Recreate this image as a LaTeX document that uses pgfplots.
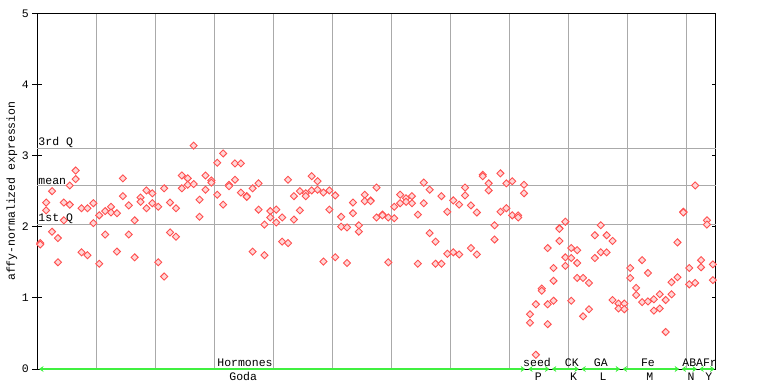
\documentclass[border=0pt]{standalone}
\usepackage{pgfplots}
\pgfplotsset{compat=1.18}
\usepackage{fontspec}
\setmonofont{Liberation Mono}
\usetikzlibrary{arrows.meta}
\definecolor{ptred}{RGB}{255,80,80}
\definecolor{ptfill}{RGB}{255,215,215}
\definecolor{gridgray}{RGB}{170,170,170}
\definecolor{grp}{RGB}{64,240,64}
\begin{document}
\begin{tikzpicture}[font=\ttfamily\fontsize{11.5bp}{13bp}\selectfont]
\begin{axis}[
 at={(0,0)}, anchor=south west,
 scale only axis, width=678.5bp, height=355.7bp,
 xmin=0, xmax=115, ymin=0, ymax=5,
 axis line style={black, line width=1bp},
 xtick={10,20,...,110}, xticklabels={}, xmajorgrids, xtick style={draw=none},
 ytick={0,1,2,3,4,5}, ytick pos=left, tick align=center, major tick length=10bp,
 ytick style={black, line width=1bp},
 major grid style={gridgray, line width=0.9bp},
 /pgf/number format/assume math mode=true,
 yticklabel style={font=\ttfamily\fontsize{11.5bp}{13bp}\selectfont},
 ylabel={affy-normalized expression},
 ylabel style={at={(axis description cs:-0.0373,0.5)}, anchor=center, font=\ttfamily\fontsize{11.5bp}{13bp}\selectfont},
 clip=false,
]
\draw[gridgray, line width=0.9bp] (axis cs:0,3.10) -- (axis cs:115,3.10);
\draw[gridgray, line width=0.9bp] (axis cs:0,2.58) -- (axis cs:115,2.58);
\draw[gridgray, line width=0.9bp] (axis cs:0,2.03) -- (axis cs:115,2.03);
\draw[black, line width=1bp] (axis cs:115,1) -- ++(-4bp,0);
\draw[black, line width=1bp] (axis cs:115,2) -- ++(-4bp,0);
\draw[black, line width=1bp] (axis cs:115,3) -- ++(-4bp,0);
\draw[black, line width=1bp] (axis cs:115,4) -- ++(-4bp,0);
\node[anchor=south west, inner sep=1bp] at (axis cs:0,3.10) {3rd Q};
\node[anchor=south west, inner sep=1bp] at (axis cs:0,2.58) {mean};
\node[anchor=south west, inner sep=1bp] at (axis cs:0,2.03) {1st Q};

\addplot[only marks, mark=square*, mark size=2.5bp, mark options={rotate=45, draw=ptred, fill=ptfill, line width=0.9bp, solid}] table {
x y
0.5 1.77
0.5 1.75
1.5 2.34
1.5 2.23
2.5 2.50
2.5 1.93
3.5 1.84
3.5 1.50
4.5 2.34
4.5 2.09
5.5 2.58
5.5 2.31
6.5 2.79
6.5 2.67
7.5 2.26
7.5 1.64
8.5 2.26
8.5 1.60
9.5 2.33
9.5 2.05
10.5 2.16
10.5 1.48
11.5 2.22
11.5 1.89
12.5 2.28
12.5 2.20
13.5 2.19
13.5 1.65
14.5 2.68
14.5 2.43
15.5 2.30
15.5 1.89
16.5 2.09
16.5 1.57
17.5 2.41
17.5 2.35
18.5 2.51
18.5 2.26
19.5 2.47
19.5 2.33
20.5 2.28
20.5 1.50
21.5 2.54
21.5 1.30
22.5 2.34
22.5 1.92
23.5 2.26
23.5 1.86
24.5 2.72
24.5 2.54
25.5 2.68
25.5 2.59
26.5 3.14
26.5 2.60
27.5 2.38
27.5 2.14
28.5 2.72
28.5 2.52
29.5 2.65
29.5 2.62
30.5 2.90
30.5 2.45
31.5 3.03
31.5 2.31
32.5 2.59
32.5 2.57
33.5 2.89
33.5 2.66
34.5 2.89
34.5 2.48
35.5 2.43
35.5 2.42
36.5 2.54
36.5 1.65
37.5 2.61
37.5 2.24
38.5 2.03
38.5 1.60
39.5 2.22
39.5 2.13
40.5 2.24
40.5 2.06
41.5 2.13
41.5 1.79
42.5 2.66
42.5 1.77
43.5 2.43
43.5 2.10
44.5 2.50
44.5 2.23
45.5 2.47
45.5 2.43
46.5 2.71
46.5 2.51
47.5 2.64
47.5 2.52
48.5 2.48
48.5 1.51
49.5 2.51
49.5 2.24
50.5 2.44
50.5 1.57
51.5 2.14
51.5 2.00
52.5 1.99
52.5 1.49
53.5 2.34
53.5 2.19
54.5 2.02
54.5 1.93
55.5 2.45
55.5 2.36
56.5 2.37
56.5 2.36
57.5 2.55
57.5 2.13
58.5 2.17
58.5 2.16
59.5 2.13
59.5 1.50
60.5 2.28
60.5 2.12
61.5 2.45
61.5 2.33
62.5 2.40
62.5 2.35
63.5 2.43
63.5 2.33
64.5 2.17
64.5 1.48
65.5 2.62
65.5 2.33
66.5 2.52
66.5 1.91
67.5 1.79
67.5 1.48
68.5 2.43
68.5 1.48
69.5 2.21
69.5 1.62
70.5 2.37
70.5 1.64
71.5 2.31
71.5 1.61
72.5 2.55
72.5 2.44
73.5 2.30
73.5 1.70
74.5 2.20
74.5 1.61
75.5 2.73
75.5 2.71
76.5 2.61
76.5 2.51
77.5 2.02
77.5 1.82
78.5 2.75
78.5 2.21
79.5 2.61
79.5 2.26
80.5 2.64
80.5 2.16
81.5 2.16
81.5 2.13
82.5 2.59
82.5 2.47
83.5 0.77
83.5 0.65
84.5 0.91
84.5 0.20
85.5 1.13
85.5 1.10
86.5 1.70
86.5 0.91
86.5 0.63
87.5 1.42
87.5 1.24
87.5 0.96
88.5 1.98
88.5 1.97
88.5 1.80
89.5 2.07
89.5 1.57
89.5 1.45
90.5 1.70
90.5 1.56
90.5 0.96
91.5 1.67
91.5 1.49
91.5 1.28
92.5 1.28
92.5 0.74
93.5 1.21
93.5 0.84
94.5 1.88
94.5 1.56
95.5 2.02
95.5 1.64
96.5 1.88
96.5 1.64
97.5 1.80
97.5 0.97
98.5 0.92
98.5 0.85
99.5 0.92
99.5 0.84
100.5 1.42
100.5 1.28
101.5 1.14
101.5 1.04
102.5 1.53
102.5 0.94
103.5 1.35
103.5 0.95
104.5 0.98
104.5 0.82
105.5 1.05
105.5 0.85
106.5 0.97
106.5 0.52
107.5 1.22
107.5 1.05
108.5 1.78
108.5 1.29
109.5 2.21
109.5 2.20
110.5 1.42
110.5 1.19
111.5 2.58
111.5 1.21
112.5 1.53
112.5 1.43
113.5 2.09
113.5 2.03
114.5 1.47
114.5 1.25
};

\draw[grp, line width=2bp, {Stealth[length=4.5bp,width=6bp]}-{Stealth[length=4.5bp,width=6bp]}] (axis cs:0.3,0) -- (axis cs:82.7,0);
\draw[grp, line width=2bp, {Stealth[length=4.5bp,width=6bp]}-{Stealth[length=4.5bp,width=6bp]}] (axis cs:83.2,0) -- (axis cs:86.8,0);
\draw[grp, line width=2bp, {Stealth[length=4.5bp,width=6bp]}-{Stealth[length=4.5bp,width=6bp]}] (axis cs:87.2,0) -- (axis cs:91.8,0);
\draw[grp, line width=2bp, {Stealth[length=4.5bp,width=6bp]}-{Stealth[length=4.5bp,width=6bp]}] (axis cs:92.2,0) -- (axis cs:98.8,0);
\draw[grp, line width=2bp, {Stealth[length=4.5bp,width=6bp]}-{Stealth[length=4.5bp,width=6bp]}] (axis cs:99.2,0) -- (axis cs:108.8,0);
\draw[grp, line width=2bp, {Stealth[length=4.5bp,width=6bp]}-{Stealth[length=4.5bp,width=6bp]}] (axis cs:109.2,0) -- (axis cs:111.8,0);
\draw[grp, line width=2bp, {Stealth[length=4.5bp,width=6bp]}-{Stealth[length=4.5bp,width=6bp]}] (axis cs:112.2,0) -- (axis cs:114.8,0);

\node[yshift=6.5bp, inner sep=0pt] at (axis cs:35.2,0) {Hormones};
\node[yshift=6.5bp, inner sep=0pt] at (axis cs:84.7,0) {seed};
\node[yshift=6.5bp, inner sep=0pt] at (axis cs:90.6,0) {CK};
\node[yshift=6.5bp, inner sep=0pt] at (axis cs:95.5,0) {GA};
\node[yshift=6.5bp, inner sep=0pt] at (axis cs:103.5,0) {Fe};
\node[yshift=6.5bp, inner sep=0pt] at (axis cs:111.1,0) {ABA};
\node[yshift=6.5bp, inner sep=0pt] at (axis cs:114.0,0) {Fr};
\node[yshift=-7.7bp, inner sep=0pt] at (axis cs:34.9,0) {Goda};
\node[yshift=-7.7bp, inner sep=0pt] at (axis cs:84.9,0) {P};
\node[yshift=-7.7bp, inner sep=0pt] at (axis cs:90.9,0) {K};
\node[yshift=-7.7bp, inner sep=0pt] at (axis cs:95.9,0) {L};
\node[yshift=-7.7bp, inner sep=0pt] at (axis cs:103.8,0) {M};
\node[yshift=-7.7bp, inner sep=0pt] at (axis cs:110.8,0) {N};
\node[yshift=-7.7bp, inner sep=0pt] at (axis cs:113.8,0) {Y};
\end{axis}
\pgfresetboundingbox
\path[use as bounding box] (-37.3bp,-15bp) rectangle (730.7bp,369bp);
\end{tikzpicture}
\end{document}
